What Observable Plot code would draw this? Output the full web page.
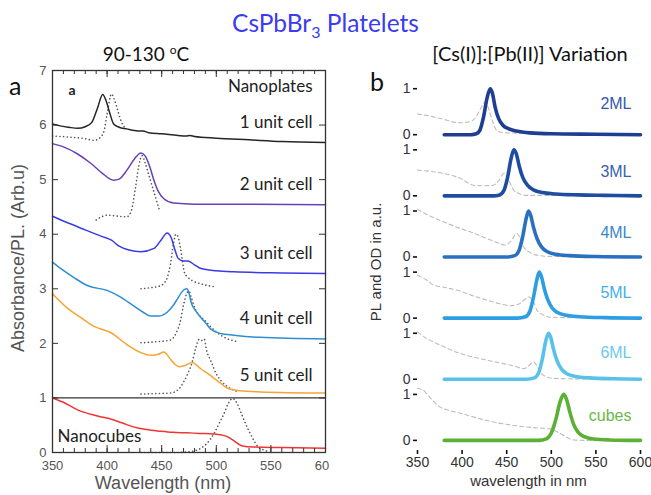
<!DOCTYPE html>
<html><head><meta charset="utf-8">
<script src="https://cdn.jsdelivr.net/npm/d3@7"></script>
<script src="https://cdn.jsdelivr.net/npm/@observablehq/plot@0.6"></script>
<style>
body{margin:0;background:#fff;}
#wrap{position:relative;width:651px;height:495px;overflow:hidden;background:#fff;}
.t{position:absolute;white-space:nowrap;line-height:1;}
.h{font-family:Arial,'Liberation Sans',Helvetica,sans-serif;}
#left,#right{position:absolute;top:0;}
#left{left:0;} #right{left:340px;}
</style></head><body><div id="wrap">
<div class="t" style="left:0;width:651px;text-align:center;top:8px;font:24.5px Lato;color:#3b3bef;">CsPbBr<sub style="font-size:16px;">3</sub> Platelets</div>
<div class="t" style="left:56px;width:180px;text-align:center;top:42px;font:19px Lato;color:#111;">90-130 <sup style="font-size:12px;">o</sup>C</div>
<div class="t" style="left:420px;width:220px;text-align:center;top:41px;font:20px Lato;color:#111;">[Cs(I)]:[Pb(II)] Variation</div>
<div class="t" style="left:9px;top:70px;font:25px Lato;color:#111;">a</div>
<div class="t" style="left:370px;top:66px;font:25px Lato;color:#111;">b</div>
<div class="t h" style="left:18px;top:258px;transform:translate(-50%,-50%) rotate(-90deg);font-size:18px;color:#555;">Absorbance/PL. (Arb.u)</div>
<div class="t h" style="left:0;width:326px;text-align:center;top:474px;font-size:18px;color:#555;">Wavelength (nm)</div>
<div class="t h" style="left:375px;top:262px;transform:translate(-50%,-50%) rotate(-90deg);font-size:15px;color:#333;">PL and OD in a.u.</div>
<div class="t h" style="left:417px;width:223px;text-align:center;top:473px;font-size:15px;color:#333;">wavelength in nm</div>
<div id="left"></div><div id="right"></div>
</div>
<script>
// ---------- Panel a data (wavelength nm, absorbance / PL) ----------
const seriesNames = ["1 unit cell","2 unit cell","3 unit cell","4 unit cell","5 unit cell","Nanocubes"];
const seriesColors = ["#262626","#6a40b4","#3a3ae8","#2d8ed2","#f6a433","#ef3434"];

const absWl1 = [350,356,365,373,380,386,391,396,399,402,406,411,418,425,430,433,438,450,465,472,476,480,500,530,560,600];
const absV1  = [6.02,5.99,5.96,5.94,5.97,6.05,6.3,6.56,6.45,6.25,6.02,5.96,5.93,5.9,5.89,5.89,5.86,5.84,5.81,5.80,5.81,5.79,5.76,5.73,5.70,5.68];
const plWl1  = [350,365,380,388,393,397,400,404,407,410,414,418];
const plV1   = [5.80,5.78,5.75,5.72,5.76,5.88,6.2,6.57,6.45,6.25,6.02,5.93];

const absWl2 = [350,360,373,385,396,402,406,411,418,425,431,435,439,443,447,452,461,480,520,600];
const absV2  = [5.66,5.6,5.47,5.3,5.11,5.02,4.99,5.01,5.17,5.38,5.49,5.43,5.24,4.98,4.78,4.65,4.57,4.55,4.55,4.54];
const plWl2  = [390,395,400,410,418,422,426,429,432,435,438,441,444,448];
const plV2   = [4.26,4.32,4.35,4.33,4.32,4.42,4.85,5.25,5.44,5.3,5.1,4.9,4.7,4.44];

const absWl3 = [350,365,380,395,404,411,420,431,443,449,455,459,462,465,470,474,480,486,500,516,560,600];
const absV3  = [4.33,4.2,4.08,3.96,3.89,3.78,3.71,3.68,3.74,3.88,4.02,3.92,3.72,3.56,3.51,3.51,3.44,3.37,3.33,3.31,3.29,3.28];
const plWl3  = [431,440,448,452,455,458,461,463,465,467,471,474,480,486,492,498];
const plV3   = [3.0,3.02,3.05,3.1,3.2,3.45,3.85,4.0,3.95,3.77,3.29,3.21,3.13,3.09,3.06,3.04];

const absWl4 = [350,359,370,383,400,412,424,433,440,447,455,460,464,468,471,473,475,477,481,486,490,495,504,516,540,600];
const absV4  = [3.49,3.35,3.2,3.05,2.97,2.85,2.69,2.57,2.5,2.5,2.57,2.68,2.8,2.93,2.99,3.0,2.92,2.75,2.6,2.47,2.38,2.26,2.18,2.15,2.11,2.08];
const plWl4  = [431,445,458,463,467,470,473,475,477,480,485,489,495,504,512,520];
const plV4   = [2.01,2.03,2.06,2.18,2.4,2.7,2.92,2.96,2.85,2.66,2.5,2.43,2.3,2.15,2.07,2.03];

const absWl5 = [350,364,376,388,404,418,431,440,447,452,458,462,466,472,478,482,486,492,498,504,510,516,522,540,600];
const absV5  = [2.91,2.64,2.47,2.31,2.19,1.98,1.83,1.78,1.80,1.84,1.71,1.62,1.57,1.6,1.65,1.6,1.53,1.45,1.36,1.27,1.18,1.15,1.13,1.11,1.09];
const plWl5  = [431,445,458,465,470,474,478,481,484,486,489,491,495,500,505,510,515,519];
const plV5   = [1.07,1.08,1.09,1.15,1.29,1.45,1.66,1.9,2.07,2.05,2.08,1.88,1.68,1.44,1.3,1.21,1.15,1.12];

const absWlC = [350,360,373,385,395,404,414,424,436,449,460,473,485,498,505,510,515,520,524,534,560,600];
const absVC  = [1.0,0.92,0.78,0.7,0.65,0.61,0.54,0.47,0.42,0.39,0.37,0.36,0.35,0.34,0.32,0.29,0.23,0.16,0.12,0.1,0.09,0.08];
const plWlC  = [431,450,465,473,480,486,492,498,503,507,511,515,519,523,527,531,535,538,543,547];
const plVC   = [0.0,0.0,0.0,0.01,0.03,0.08,0.18,0.35,0.55,0.71,0.9,0.99,0.9,0.71,0.52,0.35,0.2,0.11,0.05,0.02];

const leftLabels = ["Nanoplates","1 unit cell","2 unit cell","3 unit cell","4 unit cell","5 unit cell"];
const leftLabelY = [6.71,6.05,4.91,3.64,2.45,1.41];
const cubeLabel = ["Nanocubes"];
const cubeLabelY = [0.30];
const separatorY = [1];
const leftXTicks = [350,400,450,500,550,600];
const leftXMinor = d3.range(350,601,10);
const leftYTicks = [0,1,2,3,4,5,6,7];

// ---------- Panel b data ----------
const mlNames = ["2ML","3ML","4ML","5ML","6ML","cubes"];
const mlLineColors = ["#1f3d92","#1f4ba0","#2a70c0","#2e9ee2","#58c2e8","#5cb034"];
const mlTextColors = ["#3658aa","#3a5fb0","#3a86c9","#45afe7","#70c9e9","#6cb848"];
const mlOffsets = [6.65,5.32,3.99,2.66,1.33,0];
const mlLabelLevel = [0.67,0.52,0.52,0.54,0.57,0.54];
const rightTickLabels = ["0","1"];
const rightXTicks = [350,400,450,500,550,600];

const odWl = [
  [350,365,380,392,398,405,411,416,421,426,430,434,439,445,450,470,500,550,600],
  [350,365,379,398,413,425,435,441,447,452,458,465,472,500,550,600],
  [350,360,375,398,413,428,440,448,455,461,465,469,476,484,500,600],
  [350,360,368,380,394,410,428,445,454,465,470,475,480,484,490,499,520,600],
  [350,360,375,386,398,420,446,460,469,475,480,485,489,495,502,520,600],
  [350,356,360,368,375,386,398,420,443,460,473,485,495,503,510,517,525,540,600]
];
const odV = [
  [0.45,0.4,0.33,0.27,0.26,0.27,0.3,0.4,0.58,0.71,0.55,0.3,0.09,0.05,0.04,0.03,0.02,0.01,0.0],
  [0.56,0.53,0.49,0.38,0.23,0.22,0.23,0.33,0.49,0.35,0.12,0.04,0.01,0.01,0.0,0.0],
  [1.04,0.93,0.8,0.62,0.52,0.4,0.31,0.26,0.35,0.51,0.42,0.22,0.1,0.04,0.01,0],
  [0.93,0.83,0.72,0.67,0.61,0.5,0.39,0.3,0.27,0.32,0.4,0.46,0.35,0.17,0.08,0.02,0.01,0],
  [1.03,0.89,0.75,0.65,0.56,0.45,0.34,0.28,0.23,0.3,0.38,0.25,0.12,0.05,0.02,0.01,0],
  [1.13,1.1,1.02,0.85,0.73,0.65,0.59,0.47,0.37,0.32,0.29,0.27,0.26,0.22,0.15,0.07,0.01,0,0]
];
const plWl = [
  [380,410,416,420,424,428,431.5,434,437,441,446,452,461,476,500,550,600],
  [380,435,442,447,451,455,458,461,464,468,473,480,490,505,530,560,600],
  [380,450,459,464,468,472,474.5,477,480,484,489,495,505,520,550,600],
  [380,462,471,476,480,484,486.5,489,492,496,501,507,517,532,560,600],
  [380,472,481,486,490,494,497,499.5,502.5,506.5,511.5,517.5,527.5,542.5,570,600],
  [380,486,495,500,505,510,514,517,521,525,530,537,547,565,600]
];
const plV = [
  [0,0,0.02,0.1,0.38,0.8,1,0.9,0.6,0.35,0.2,0.13,0.08,0.04,0.02,0.01,0],
  [0,0,0.02,0.12,0.4,0.82,1,0.9,0.65,0.4,0.24,0.13,0.07,0.04,0.02,0.01,0],
  [0,0,0.03,0.15,0.45,0.85,1,0.9,0.65,0.4,0.22,0.12,0.06,0.03,0.01,0],
  [0,0,0.03,0.15,0.45,0.85,1,0.9,0.65,0.4,0.22,0.12,0.06,0.03,0.01,0],
  [0,0,0.03,0.15,0.45,0.85,1,0.9,0.65,0.4,0.22,0.12,0.06,0.03,0.01,0],
  [0,0,0.04,0.16,0.45,0.85,1,0.9,0.6,0.35,0.18,0.08,0.03,0.01,0]
];

// ---------- build tables ----------
const zip = (wl, v, k) => wl.map((w, i) => ({wl: w, v: v[i], k}));
const absData = [
  zip(absWl1, absV1, 0), zip(absWl2, absV2, 1), zip(absWl3, absV3, 2),
  zip(absWl4, absV4, 3), zip(absWl5, absV5, 4), zip(absWlC, absVC, 5)
].flat();
const plLeft = [
  zip(plWl1, plV1, 0), zip(plWl2, plV2, 1), zip(plWl3, plV3, 2),
  zip(plWl4, plV4, 3), zip(plWl5, plV5, 4), zip(plWlC, plVC, 5)
].flat();

const FONT = "Arial, 'Liberation Sans', Helvetica, sans-serif";
const W1 = 329, H = 495;
const left = Plot.plot({
  width: W1, height: H,
  marginTop: 70, marginBottom: 43, marginLeft: 52, marginRight: 4,
  style: {fontFamily: FONT, fontSize: "13px", color: "#555", background: "transparent"},
  x: {domain: [350, 600]},
  y: {domain: [0, 7]},
  marks: [
    Plot.line(plLeft, {x: "wl", y: "v", z: "k", stroke: "#555", strokeWidth: 1.6, strokeDasharray: "0.1,3.6", strokeLinecap: "round", curve: "monotone-x"}),
    Plot.line(absData, {x: "wl", y: "v", z: "k", stroke: d => seriesColors[d.k], strokeWidth: 1.5, curve: "monotone-x"}),
    Plot.ruleY(separatorY, {stroke: "#333", strokeWidth: 1.2}),
    // inward ticks
    Plot.tickX(leftXMinor, {x: d => d, stroke: "#333", insetTop: 382 - 4}),
    Plot.tickX(leftXTicks, {x: d => d, stroke: "#333", insetTop: 382 - 7}),
    Plot.tickX(leftXMinor, {x: d => d, stroke: "#333", insetBottom: 382 - 4}),
    Plot.tickX(leftXTicks, {x: d => d, stroke: "#333", insetBottom: 382 - 7}),
    Plot.tickY(leftYTicks, {y: d => d, stroke: "#333", insetRight: 273 - 6}),
    Plot.tickY(leftYTicks, {y: d => d, stroke: "#333", insetLeft: 273 - 6}),
    Plot.frame({stroke: "#333", strokeWidth: 1.3}),
    Plot.axisX(leftXTicks, {anchor: "bottom", tickSize: 0, tickPadding: 8, label: null, tickFormat: d3.format("d"), fill: "#555", fontSize: 13, fontFamily: FONT}),
    Plot.axisY(leftYTicks, {anchor: "left", tickSize: 0, tickPadding: 6, label: null, tickFormat: d3.format("d"), fill: "#555", fontSize: 13, fontFamily: FONT}),
    Plot.text(leftLabels, {text: d => d, y: (d, i) => leftLabelY[i], frameAnchor: "right", dx: -13, textAnchor: "end", fontFamily: "Lato", fontSize: 17, fill: "#222"}),
    Plot.text(cubeLabel, {text: d => d, y: (d, i) => cubeLabelY[i], frameAnchor: "left", dx: 5, textAnchor: "start", fontFamily: "Lato", fontSize: 17, fill: "#222"}),
    Plot.text(["a"], {text: d => d, frameAnchor: "top-left", dx: 16, dy: 15, fontFamily: "Lato", fontWeight: "bold", fontSize: 14, fill: "#222"})
  ]
});
document.getElementById("left").appendChild(left);

// ---------- panel b ----------
const odData = odWl.flatMap((wl, k) => wl.map((w, i) => ({wl: w, y: odV[k][i] + mlOffsets[k], k})));
const plData = plWl.flatMap((wl, k) => wl.map((w, i) => ({wl: w, y: plV[k][i] + mlOffsets[k], k})));
const rightTicks = mlOffsets.flatMap(o => [o, o + 1]);
const tickLabelMap = new Map(rightTicks.map((t, i) => [t, rightTickLabels[i % 2]]));

const right = Plot.plot({
  width: 311, height: H,
  marginTop: 85, marginBottom: 45, marginLeft: 77, marginRight: 11,
  style: {fontFamily: FONT, fontSize: "14px", color: "#333", background: "transparent"},
  x: {domain: [350, 600]},
  y: {domain: [-0.22, 7.72]},
  marks: [
    Plot.line(odData, {x: "wl", y: "y", z: "k", stroke: "#bdbdbd", strokeWidth: 1.1, strokeDasharray: "4,3", curve: "monotone-x"}),
    Plot.line(plData, {x: "wl", y: "y", z: "k", stroke: d => mlLineColors[d.k], strokeWidth: 3.6, curve: "monotone-x"}),
    Plot.axisX(rightXTicks, {anchor: "bottom", tickSize: 4, tickPadding: 3, line: true, strokeWidth: 1.6, stroke: "#111", label: null, tickFormat: d3.format("d"), fill: "#333", fontSize: 14, fontFamily: FONT}),
    Plot.axisY(rightTicks, {anchor: "left", tickSize: 4, tickPadding: 3, line: true, strokeWidth: 1.6, stroke: "#111", label: null, tickFormat: d => tickLabelMap.get(d), fill: "#333", fontSize: 14, fontFamily: FONT}),
    Plot.text(mlNames, {text: d => d, y: (d, i) => mlOffsets[i] + mlLabelLevel[i], frameAnchor: "right", dx: -9, textAnchor: "end", fill: (d, i) => mlTextColors[i], fontSize: 16, fontFamily: FONT})
  ]
});
document.getElementById("right").appendChild(right);
</script>
</body></html>
